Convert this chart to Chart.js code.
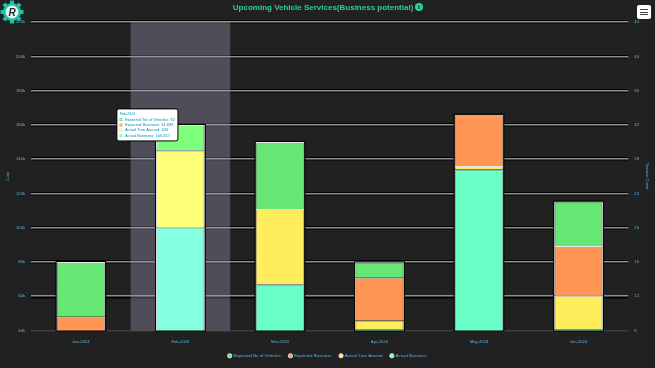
<!DOCTYPE html>
<html>
<head>
<meta charset="utf-8">
<script src="https://cdn.jsdelivr.net/npm/chart.js@4"></script>
<style>
  html, body { margin: 0; padding: 0; background: #212121; }
  #wrap { position: relative; width: 655px; height: 368px; overflow: hidden; }
  #logo { position: absolute; left: 0; top: 0; }
  #menu { position: absolute; left: 637px; top: 5px; width: 14px; height: 14px; background: #fff; border-radius: 2px; }
  #menu i { position: absolute; left: 3px; width: 8px; height: 1.4px; background: #444; }
  #info { position: absolute; left: 415px; top: 3px; width: 8px; height: 8px; border-radius: 50%; background: #2bd09a;
    color: #212121; font: bold 7px/8px "Liberation Serif"; text-align: center; }
</style>
</head>
<body>
<div id="wrap">
  <canvas id="serviceChart" width="655" height="368"></canvas>
  <svg id="logo" width="26" height="26" viewBox="0 0 26 26">
    <g fill="#16c6a0">
      <circle cx="12" cy="12" r="9"/>
      <rect x="10" y="0.5" width="4" height="23"/>
      <rect x="10" y="0.5" width="4" height="23" transform="rotate(45 12 12)"/>
      <rect x="10" y="0.5" width="4" height="23" transform="rotate(90 12 12)"/>
      <rect x="10" y="0.5" width="4" height="23" transform="rotate(135 12 12)"/>
    </g>
    <circle cx="12" cy="12" r="6.5" fill="#e8f5f2"/>
    <text x="12" y="15.5" font-family="Liberation Sans" font-weight="bold" font-style="italic" font-size="10" text-anchor="middle" fill="#1d2b2b">R</text>
  </svg>
  <div id="menu"><i style="top:4px"></i><i style="top:6.5px"></i><i style="top:9px"></i></div>
  <div id="info">i</div>
</div>
<script>
const categories = ["Jan-2024", "Feb-2024", "Mar-2024", "Apr-2024", "May-2024", "Jun-2024"];
const actualBusiness = [0, 100357, 67000, 40800, 134000, 40800];
const actualTurnAround = [0, 44800, 44000, 5000, 2000, 19500];
const expectedBusiness = [48000, 0, 0, 25000, 30000, 29000];
const expectedVehicles = [32000, 14838, 39000, 9000, 0, 26000];
const costTicks = [40000, 60000, 80000, 100000, 120000, 140000, 160000, 180000, 200000, 220000];
const countTicks = [8, 12, 16, 20, 24, 28, 32, 36, 40, 44];
const tooltipLines = ["Expected No of Vehicles: 82", "Expected Business: 14,838", "Actual Turn Around: 426", "Actual Business: 100,357"];
const activeIndex = 1;

const labelColor = "#5ab4e6";

// grey band behind the hovered month, black outline round each stacked bar
const hoverBand = {
  id: "hoverBand",
  beforeDatasetsDraw(chart) {
    const { ctx, chartArea, scales } = chart;
    const step = scales.x.getPixelForValue(1) - scales.x.getPixelForValue(0);
    const cx = scales.x.getPixelForValue(activeIndex);
    ctx.save();
    ctx.fillStyle = "rgba(150,153,175,0.38)";
    ctx.fillRect(cx - step / 2, chartArea.top, step, chartArea.bottom - chartArea.top);

    ctx.strokeStyle = "#000";
    ctx.lineWidth = 2;
    categories.forEach((c, i) => {
      const bars = chart.data.datasets
        .map((d, n) => (d.data[i] > 0 ? chart.getDatasetMeta(n).data[i] : null))
        .filter(Boolean);
      if (!bars.length) return;
      const b = bars[0];
      const top = Math.min(...bars.map((e) => e.y));
      ctx.strokeRect(b.x - b.width / 2, top, b.width, chartArea.bottom - top);
    });
    ctx.restore();
  },
};

Chart.Tooltip.positioners.stackTop = function (items) {
  if (!items.length) return false;
  const { x, y } = this.chart.scales;
  return { x: x.getPixelForValue(activeIndex) - 33, y: y.getPixelForValue(160000) };
};

const bar = (label, data, color, hover) => ({
  label,
  data,
  backgroundColor: color,
  hoverBackgroundColor: hover,
  borderColor: "#e6e6e6",
  hoverBorderColor: "#e6e6e6",
  borderWidth: 1,
  hoverBorderWidth: 1,
  stack: "s",
  yAxisID: "y",
  categoryPercentage: 0.98,
  barPercentage: 0.5,
});

const chart = new Chart(document.getElementById("serviceChart"), {
  type: "bar",
  data: {
    labels: categories,
    datasets: [
      bar("Actual Business", actualBusiness, "#6bffc7", "#84ffe0"),
      bar("Actual Turn Around", actualTurnAround, "#ffed5c", "#ffff78"),
      bar("Expected Business", expectedBusiness, "#ff9655", "#ffa866"),
      bar("Expected No of Vehicles", expectedVehicles, "#66e673", "#7dff7d"),
    ],
  },
  options: {
    responsive: false,
    animation: false,
    events: [],
    layout: { padding: { left: 5, right: 5, top: 0, bottom: 0 } },
    scales: {
      x: {
        stacked: true,
        grid: { display: false },
        border: { display: false },
        ticks: { color: labelColor, font: { size: 4.2 }, padding: 1 },
      },
      y: {
        stacked: true,
        min: 40000,
        max: 220000,
        afterBuildTicks: (axis) => { axis.ticks = costTicks.map((value) => ({ value })); },
        grid: {
          z: -1,
          lineWidth: 1.6,
          drawTicks: false,
          color: (c) => (c.tick.value === costTicks[0] ? "#3d3d3d" : "#8f8f8f"),
        },
        border: { display: false },
        ticks: { color: labelColor, font: { size: 4.2 }, padding: 6, callback: (v) => v / 1000 + "k" },
        title: { display: true, text: "Cost", color: labelColor, font: { size: 4.2 }, padding: 0 },
      },
      y1: {
        position: "right",
        min: 8,
        max: 44,
        afterBuildTicks: (axis) => { axis.ticks = countTicks.map((value) => ({ value })); },
        grid: {
          z: -2,
          lineWidth: 3.5,
          drawTicks: false,
          color: (c) => (c.tick.value === countTicks[0] ? "rgba(0,0,0,0)" : "#000"),
        },
        border: { display: false },
        ticks: { color: labelColor, font: { size: 4.2 }, padding: 6 },
        title: { display: true, text: "Service Count", color: labelColor, font: { size: 4.2 }, padding: 0 },
      },
    },
    plugins: {
      title: {
        display: true,
        text: "Upcoming Vehicle Services(Business potential)\u00a0\u00a0\u00a0\u00a0",
        color: "#2bd09a",
        font: { family: "Liberation Sans", size: 8, weight: "bold" },
        padding: { top: 3, bottom: 9.5 },
      },
      legend: {
        position: "bottom",
        reverse: true,
        labels: {
          color: labelColor,
          font: { size: 4.4 },
          usePointStyle: true,
          pointStyle: "circle",
          boxWidth: 3,
          boxHeight: 3,
          padding: 8,
        },
      },
      tooltip: {
        mode: "index",
        position: "stackTop",
        xAlign: "center",
        yAlign: "center",
        backgroundColor: "#ffffff",
        borderColor: "#000",
        borderWidth: 1,
        cornerRadius: 2,
        titleColor: "#0a8fb5",
        bodyColor: "#0a8fb5",
        titleFont: { size: 3.6, weight: "normal" },
        bodyFont: { size: 4 },
        titleMarginBottom: 1,
        bodySpacing: 0.5,
        padding: 3,
        boxWidth: 2,
        boxHeight: 2,
        boxPadding: 1,
        itemSort: (a, b) => b.datasetIndex - a.datasetIndex,
        callbacks: {
          label: (item) => tooltipLines[3 - item.datasetIndex],
          labelColor: (item) => ({
            borderColor: item.dataset.backgroundColor,
            backgroundColor: item.dataset.backgroundColor,
          }),
        },
      },
    },
  },
  plugins: [hoverBand],
});

const active = chart.data.datasets.map((d, datasetIndex) => ({ datasetIndex, index: activeIndex }));
chart.setActiveElements(active);
chart.tooltip.setActiveElements(active, { x: 0, y: 0 });
chart.update();
</script>
</body>
</html>
